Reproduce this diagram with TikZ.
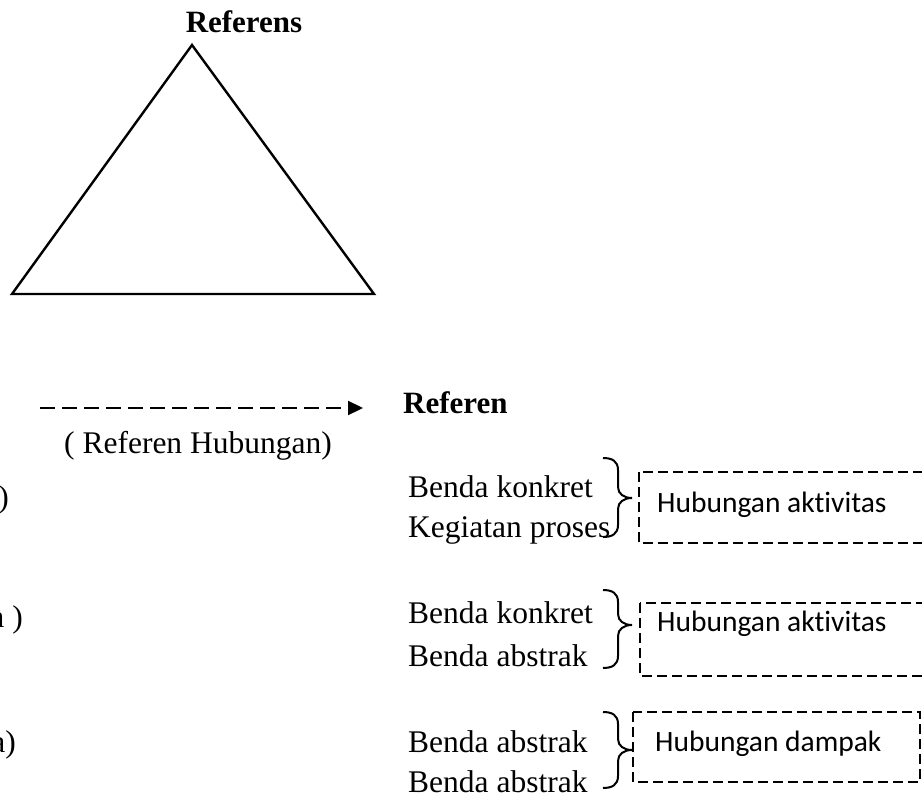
\documentclass[tikz,border=0pt]{standalone}
\usepackage{fontspec}
\setmainfont{Liberation Serif}
\newfontfamily\calibrif[Ligatures={NoCommon,NoRequired,NoContextual}]{Carlito}
\usetikzlibrary{arrows.meta}
\newcommand\drawRbrace[3]{%
  \draw[bracestyle] (603,#1) .. controls (612,#1) and (618,#1+3) .. (618,#1+12)
    -- (618,#2-11) .. controls (618,#2-4) and (624,#2) .. (632,#2)
    .. controls (624,#2) and (618,#2+4) .. (618,#2+11)
    -- (618,#3-12) .. controls (618,#3-3) and (612,#3) .. (603,#3);}
\begin{document}
\begin{tikzpicture}[x=1pt,y=-1pt,
  serif/.style={font=\fontsize{31.5}{36}\selectfont, inner sep=0pt, anchor=base west},
  boldlbl/.style={font=\fontsize{31}{36}\selectfont\bfseries, inner sep=0pt},
  sanslbl/.style={font=\calibrif\fontsize{29.5}{34}\selectfont, inner sep=0pt, anchor=base west},
  dashbox/.style={draw, line width=2.6pt, dash pattern=on 10pt off 5pt},
  bracestyle/.style={line width=2pt},
  triline/.style={line width=2.4pt, line join=miter},
  refarrow/.style={line width=2.3pt, dash pattern=on 15pt off 7pt, -{Triangle[length=15pt,width=14pt]}}
]
\useasboundingbox (0,0) rectangle (922,800);
\clip (0,0) rectangle (922,800);

% triangle
\node[boldlbl, anchor=base] (referens) at (244,33) {Referens};
\coordinate (apex) at (192,45);
\coordinate (bl) at (12,294);
\coordinate (br) at (374,294);
\draw[triline] (apex) -- (bl) -- (br) -- cycle;

% arrow
\coordinate (as) at (40,408);
\coordinate (ae) at (363,408);
\draw[refarrow] (as) -- (ae);
\node[serif, anchor=base] (refhub) at (198,453) {( Referen Hubungan)};
\node[boldlbl, anchor=base west] (referen) at (403,413) {Referen};

% left cut texts
\node[serif, anchor=base east] (p1) at (9,507) {)};
\node[serif, anchor=base east] (p2) at (23,627) {n )};
\node[serif, anchor=base east] (p3) at (16,752) {a)};

% group 1
\node[serif] (g1a) at (408,497) {Benda konkret};
\node[serif] (g1b) at (408,537) {Kegiatan proses};
\drawRbrace{458}{498}{537}
\coordinate (b1a) at (639,472);
\coordinate (b1b) at (935,543);
\draw[dashbox] (b1a) rectangle (b1b);
\node[sanslbl] (h1) at (657,512) {Hubungan aktivitas};

% group 2
\node[serif] (g2a) at (408,623) {Benda konkret};
\node[serif] (g2b) at (408,666) {Benda abstrak};
\drawRbrace{590}{625}{668}
\coordinate (b2a) at (640,603);
\coordinate (b2b) at (935,676);
\draw[dashbox] (b2a) rectangle (b2b);
\node[sanslbl] (h2) at (657,631) {Hubungan aktivitas};

% group 3
\node[serif] (g3a) at (408,752) {Benda abstrak};
\node[serif] (g3b) at (408,792) {Benda abstrak};
\drawRbrace{712}{750}{788}
\coordinate (b3a) at (633,712);
\coordinate (b3b) at (920,782);
\draw[dashbox] (b3a) rectangle (b3b);
\node[sanslbl] (h3) at (655,751) {Hubungan dampak};
\end{tikzpicture}
\end{document}
